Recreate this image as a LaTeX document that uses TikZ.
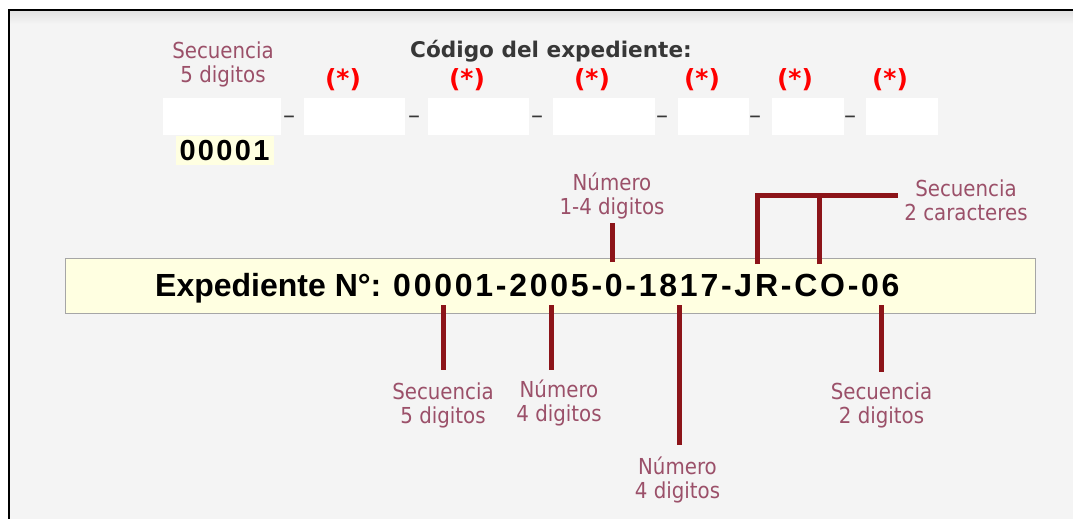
\documentclass[tikz,border=0pt]{standalone}
\usepackage{fontspec}
\setmainfont{DejaVu Sans}
\newfontfamily\lblfont[FakeStretch=0.9]{DejaVu Sans}
\newfontfamily\codefont{Liberation Sans}
\newfontfamily\numfont[LetterSpace=8.6]{Liberation Sans}
\newfontfamily\curfont[LetterSpace=8]{Liberation Sans}
\usepackage{xcolor}
\usepackage{tikz}
\usetikzlibrary{positioning}
\definecolor{panel}{RGB}{244,244,244}
\definecolor{band}{RGB}{255,255,225}
\definecolor{lbl}{RGB}{155,80,105}
\definecolor{ptr}{RGB}{140,20,25}
\definecolor{head}{RGB}{55,55,55}

\begin{document}
\begin{tikzpicture}[x=1pt, y=-1pt, inner sep=0pt,
  lbl/.style = {align=center, anchor=base, text=lbl, font=\lblfont\fontsize{22}{24}\selectfont},
  field/.style = {fill=white, minimum height=37pt},
  req/.style = {text=red, font=\bfseries\fontsize{25}{25}\selectfont},
  sep/.style = {anchor=base, text=head, font=\fontsize{24}{24}\selectfont},
  pointer/.style = {draw=ptr, line width=5pt}]

    % frame
    \useasboundingbox (0,0) rectangle (1073,519);
    \fill[white] (0,0) rectangle (1073,519);
    \fill[panel] (9,10) rectangle (1073,519);
    \shade[top color=black!12, bottom color=panel] (9,10) rectangle (1073,24);
    \draw[line width=2pt] (9,519) -- (9,10) -- (1073,10);

    % form
    \node[anchor=base, text=head, font=\bfseries\fontsize{21.6}{24}\selectfont] (title) at (551,57) {Código del expediente:};
    \node[lbl] (s0) at (223,82) {Secuencia\\5 digitos};

    \node[field, minimum width=118pt] (f1) at (222,116.5) {};
    \node[field, minimum width=101pt] (f2) at (354.5,116.5) {};
    \node[field, minimum width=101pt] (f3) at (478.5,116.5) {};
    \node[field, minimum width=102pt] (f4) at (604,116.5) {};
    \node[field, minimum width=71pt] (f5) at (713.5,116.5) {};
    \node[field, minimum width=72pt] (f6) at (808,116.5) {};
    \node[field, minimum width=72pt] (f7) at (902,116.5) {};

    \node[req] (r2) at (343,80) {(*)};
    \node[req] (r3) at (467,80) {(*)};
    \node[req] (r4) at (592,80) {(*)};
    \node[req] (r5) at (702,80) {(*)};
    \node[req] (r6) at (795,80) {(*)};
    \node[req] (r7) at (890,80) {(*)};

    \foreach \x in {289,414,537,662,755,850}
        \node[sep] (d\x) at (\x,123.5) {–};

    \node[below=1pt of f1, xshift=2.5pt, fill=band, minimum width=98pt, minimum height=29pt,
          font=\curfont\bfseries\fontsize{29}{29}\selectfont] (cur) {00001};

    % expediente
    \node[fill=band, draw=black!35, line width=1pt, minimum width=970pt, minimum height=55pt] (b) at (550,285.5) {};
    \node[anchor=base west, font=\codefont\bfseries\fontsize{32}{32}\selectfont] (txt) at (155,296)
        {Expediente N°: {\numfont 00001-2005-0-1817-JR-CO-06}};

    \coordinate (a1) at (443,305);  \coordinate (e1) at (443,370);
    \coordinate (a2) at (551,305);  \coordinate (e2) at (551,370);
    \coordinate (a3) at (679,305);  \coordinate (e3) at (679,445);
    \coordinate (a4) at (881,305);  \coordinate (e4) at (881,372);
    \coordinate (a5) at (612,262);  \coordinate (e5) at (612,223);
    \coordinate (a6) at (757,264);  \coordinate (c6) at (757,195);
    \coordinate (a7) at (819,264);  \coordinate (c7) at (819,195);
    \coordinate (e6) at (898,195);

    \draw[pointer] (a1) -- (e1);
    \draw[pointer] (a2) -- (e2);
    \draw[pointer] (a3) -- (e3);
    \draw[pointer] (a4) -- (e4);
    \draw[pointer] (a5) -- (e5);
    \draw[pointer] (a6) -- (c6) -- (e6);
    \draw[pointer] (a7) -- (c7);

    \node[lbl] (l1) at (443,423) {Secuencia\\5 digitos};
    \node[lbl] (l2) at (559,421) {Número\\4 digitos};
    \node[lbl] (l3) at (677.5,498) {Número\\4 digitos};
    \node[lbl] (l4) at (881.5,423) {Secuencia\\2 digitos};
    \node[lbl] (l5) at (612,214) {Número\\1-4 digitos};
    \node[lbl] (l6) at (966,220) {Secuencia\\2 caracteres};

\end{tikzpicture}
\end{document}
